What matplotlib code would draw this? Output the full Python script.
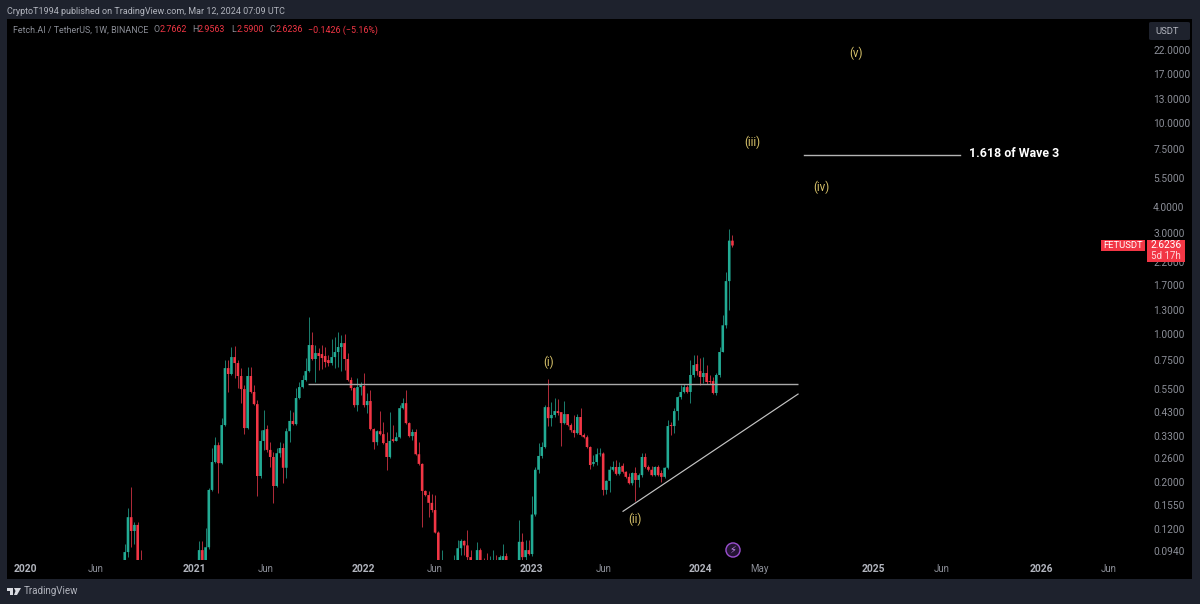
import matplotlib
matplotlib.use("Agg")
import matplotlib.pyplot as plt
import matplotlib.dates as mdates
from matplotlib.patches import Circle, FancyBboxPatch, Polygon, Rectangle
import numpy as np
import pandas as pd

plt.rcParams["font.family"] = ["Roboto", "DejaVu Sans"]

# weekly candles, the values under the visible range are only estimates
opens = [.080,.093,.136,.117,.125,.075,
    .072,.071,.068,.066,.062,.064,.060,.058,.061,.057,.055,.053,.056,.054,.058,.061,.066,
    .078,.095,.080,.098,.183,.248,.298,.245,.371,.690,
    .647,.778,.729,.633,.549,.359,.633,.532,.466,.213,
    .312,.355,.283,.262,.191,.273,.289,.233,.347,.388,
    .375,.498,.561,.606,.668,.887,.762,.813,.804,.787,
    .753,.729,.778,.822,.868,.906,.762,.606,.555,.461,
    .561,.568,.461,.482,.355,.308,.347,.336,.305,.262,
    .318,.312,.325,.446,.471,.379,.329,.344,.270,.243,
    .181,.173,.159,.147,.115,.077,.080,.078,.076,.079,
    .082,.097,.105,.100,.088,.080,.079,.095,.080,.078,
    .076,.078,.080,.078,.080,.089,.081,.079,.078,.080,
    .104,.088,.095,.091,.140,.228,.265,.292,.451,.400,
    .414,.432,.427,.379,.418,.371,.351,.340,.405,.333,
    .325,.292,.243,.248,.270,.272,.183,.202,.228,.235,
    .218,.238,.223,.211,.197,.220,.204,.215,.262,.235,
    .228,.215,.235,.220,.211,.233,.371,.367,.432,.503,
    .532,.561,.532,.640,.721,.668,.626,.654,.599,.599,
    .526,.640,.822,1.10,1.78,2.7662]
highs = [.102,.150,.189,.129,.129,.095,
    .076,.075,.072,.070,.068,.068,.064,.065,.064,.061,.059,.059,.060,.061,.065,.071,.080,
    .105,.105,.121,.187,.289,.325,.308,.400,.753,.753,
    .868,.877,.753,.690,.574,.698,.698,.574,.487,.351,
    .437,.371,.308,.276,.289,.308,.305,.359,.437,.427,
    .555,.593,.640,.770,1.20,1.02,.887,.859,.887,.868,
    .796,.946,.968,1.02,.99,1.00,.813,.626,.561,.619,
    .593,.654,.526,.543,.359,.351,.432,.383,.344,.427,
    .371,.344,.461,.498,.543,.385,.355,.355,.308,.245,
    .183,.181,.175,.173,.117,.095,.083,.082,.083,.090,
    .106,.107,.106,.118,.095,.084,.104,.097,.087,.092,
    .089,.095,.090,.090,.102,.092,.084,.083,.084,.132,
    .115,.106,.106,.171,.235,.305,.308,.461,.613,.476,
    .498,.492,.430,.482,.420,.379,.414,.418,.446,.340,
    .333,.295,.268,.289,.289,.276,.204,.238,.251,.254,
    .248,.245,.225,.220,.223,.235,.220,.273,.273,.240,
    .238,.238,.240,.228,.235,.392,.383,.446,.510,.574,
    .580,.574,.753,.796,.796,.770,.778,.713,.640,.626,
    .654,.868,1.23,1.96,3.14,2.9563]
lows = [.075,.088,.098,.102,.072,.070,
    .068,.065,.063,.059,.060,.057,.055,.056,.054,.052,.050,.051,.052,.052,.056,.059,.064,
    .075,.077,.076,.096,.180,.246,.177,.243,.367,.532,
    .640,.619,.555,.471,.336,.355,.526,.461,.171,.208,
    .283,.276,.235,.159,.189,.262,.197,.208,.308,.371,
    .371,.492,.555,.599,.661,.753,.593,.675,.683,.698,
    .705,.713,.690,.698,.668,.675,.599,.543,.451,.432,
    .514,.451,.423,.351,.286,.298,.333,.302,.228,.259,
    .308,.312,.322,.442,.375,.325,.315,.268,.240,.122,
    .171,.136,.144,.114,.078,.072,.074,.072,.073,.076,
    .078,.090,.090,.082,.076,.075,.077,.077,.075,.073,
    .073,.075,.075,.075,.077,.078,.076,.075,.075,.078,
    .082,.085,.090,.089,.138,.220,.259,.289,.367,.367,
    .405,.414,.295,.375,.367,.344,.325,.336,.329,.322,
    .289,.230,.238,.240,.265,.173,.175,.179,.225,.215,
    .215,.220,.208,.195,.193,.163,.189,.211,.233,.225,
    .213,.213,.213,.200,.209,.230,.333,.340,.392,.492,
    .526,.526,.471,.626,.640,.574,.586,.580,.580,.520,
    .514,.626,.82,1.07,1.30,2.59]
closes = [.093,.136,.117,.125,.074,.072,
    .071,.068,.066,.062,.064,.060,.058,.061,.057,.055,.053,.056,.054,.058,.061,.066,.074,
    .095,.080,.098,.183,.248,.298,.245,.371,.690,.647,
    .778,.729,.633,.549,.359,.633,.532,.466,.213,.312,
    .351,.283,.262,.191,.273,.289,.233,.347,.388,.375,
    .498,.561,.606,.668,.887,.762,.813,.787,.770,.737,
    .729,.778,.822,.868,.906,.762,.606,.555,.461,.561,
    .574,.461,.482,.355,.308,.347,.336,.305,.262,.312,
    .312,.325,.446,.471,.379,.329,.344,.270,.243,.181,
    .173,.159,.147,.115,.078,.080,.078,.076,.079,.082,
    .097,.105,.100,.088,.080,.079,.095,.080,.078,.076,
    .078,.080,.078,.088,.089,.081,.079,.078,.080,.104,
    .088,.095,.091,.140,.228,.265,.292,.451,.400,.414,
    .432,.423,.379,.418,.371,.351,.340,.405,.333,.325,
    .292,.240,.248,.270,.272,.183,.202,.228,.235,.218,
    .235,.223,.211,.197,.220,.204,.215,.262,.235,.228,
    .215,.235,.215,.211,.233,.367,.367,.432,.503,.532,
    .561,.532,.640,.713,.668,.626,.654,.593,.593,.526,
    .640,.822,1.10,1.78,2.7662,2.6236]

price_ticks = [22, 17, 13, 10, 7.5, 5.5, 4, 3, 2.2, 1.7, 1.3, 1, .75, .55, .43, .33, .26, .2, .155, .12, .094]
time_ticks = ["2020-01-01", "2020-06-01", "2021-01-01", "2021-06-05", "2022-01-01", "2022-06-06", "2023-01-01",
              "2023-06-05", "2024-01-01", "2024-05-08", "2025-01-10", "2025-06-06", "2026-01-08", "2026-06-04"]
time_labels = ["2020", "Jun", "2021", "Jun", "2022", "Jun", "2023", "Jun", "2024", "May", "2025", "Jun", "2026", "Jun"]

wave_labels = ["(i)", "(ii)", "(iii)", "(iv)", "(v)"]
wave_dates = ["2023-02-06", "2023-08-13", "2024-04-22", "2024-09-19", "2024-12-04"]
wave_prices = [.735, .133, 8.07, 4.95, 21.4]

GREEN = "#22ab94"
RED = "#f23645"
GREEN_WICK = "#1b7f70"
RED_WICK = "#b32c3a"
SLATE = "#1e222d"
GREY = "#8b8e97"
LIGHT = "#b2b5be"


def fx(px):
    return px / 1200


def fy(px):
    return 1 - px / 604


fig = plt.figure(figsize=(12, 6.04), dpi=100, facecolor=SLATE)

# black pane behind the chart and both scales
fig.add_artist(Rectangle((fx(7), fy(579)), fx(1185), fy(19) - fy(579), transform=fig.transFigure,
                         facecolor="black", edgecolor="none", zorder=-5))

ax = fig.add_axes([fx(7), fy(560), fx(1142), fy(20) - fy(560)])
ax.patch.set_alpha(0)
for s in ax.spines.values():
    s.set_visible(False)
ax.set_yscale("log")

dates = mdates.date2num(pd.date_range(end="2024-03-11", periods=len(closes), freq="7D"))
o = np.array(opens)
h = np.array(highs)
l = np.array(lows)
c = np.array(closes)
up = c >= o
body_colors = [GREEN if u else RED for u in up]
wick_colors = [GREEN_WICK if u else RED_WICK for u in up]

ax.vlines(dates, l, h, colors=wick_colors, linewidth=0.7, zorder=2)
bodies = ax.bar(dates, np.abs(c - o), bottom=np.minimum(o, c), width=5.6, color=body_colors, linewidth=0, zorder=3)
for b in bodies:
    b.set_snap(False)

# drawings on top of the candles
d = mdates.datestr2num
ax.plot([d("2021-09-04"), d("2024-07-31")], [.58, .58], color="#a9a9a9", lw=1.0, zorder=4, solid_capstyle="butt")
ax.plot([d("2023-07-18"), d("2024-07-31")], [.145, .52], color="#c4c4c4", lw=0.85, zorder=4)
ax.plot([d("2024-08-13"), d("2025-07-17")], [7.03, 7.03], color="#b4b4b4", lw=1.0, zorder=4)
ax.text(d("2025-08-05"), 7.18, "1.618 of Wave 3", color="white", fontsize=8.9, fontweight="bold", va="center", ha="left")
for lab, when, pr in zip(wave_labels, wave_dates, wave_prices):
    ax.text(d(when), pr, lab, color="#d8c36a", fontsize=8.3, ha="center", va="center", zorder=5)

ax.set_xlim(d("2019-11-22"), d("2026-08-30"))
ax.set_ylim(.0853, 30.6)

ax.yaxis.tick_right()
ax.set_yticks(price_ticks)
ax.set_yticklabels(["%.4f" % p for p in price_ticks])
ax.minorticks_off()
ax.tick_params(axis="y", length=0, pad=3, labelsize=7.3, labelcolor=GREY)
ax.set_xticks([d(t) for t in time_ticks])
ax.set_xticklabels(time_labels)
ax.tick_params(axis="x", length=0, pad=3, labelsize=7, labelcolor=GREY)
for t in ax.get_xticklabels():
    if t.get_text().isdigit():
        t.set_color(LIGHT)
        t.set_fontweight("bold")
        t.set_fontsize(7.4)

# lightning marker
icon_ax = fig.add_axes([fx(725), fy(558), fx(16), fy(542) - fy(558)])
icon_ax.axis("off")
icon_ax.set_xlim(-1, 1)
icon_ax.set_ylim(-1, 1)
icon_ax.add_patch(Circle((0, 0), .88, facecolor="#241433", edgecolor="#9b4fd0", lw=1))
icon_ax.text(0, -.03, "\u26a1", color="#c58af0", fontsize=7, ha="center", va="center", family="DejaVu Sans")

# header lines
fig.text(fx(7), fy(11), "CryptoT1994 published on TradingView.com, Mar 12, 2024 07:09 UTC", color=LIGHT,
         fontsize=6.5, va="center")
legend_parts = [(13, "Fetch.AI / TetherUS, 1W, BINANCE", GREY), (153, "O", GREY), (160, "2.7662", RED),
                (192, "H", GREY), (198, "2.9563", RED), (231, "L", GREY), (237, "2.5900", RED),
                (270, "C", GREY), (276, "2.6236", RED), (308, "\u22120.1426 (\u22125.16%)", RED)]
for x, s, col in legend_parts:
    fig.text(fx(x), fy(30), s, color=col, fontsize=6.4, va="center")

# scale button and last price tags
px_trans = fig.transFigure
fig.add_artist(FancyBboxPatch((fx(1149), fy(40)), fx(41), fy(22) - fy(40), boxstyle="round,pad=0,rounding_size=0.002",
                              transform=px_trans, facecolor=SLATE, edgecolor="none"))
fig.text(fx(1167.5), fy(31), "USDT", color=LIGHT, fontsize=6.8, ha="center", va="center")
fig.add_artist(Rectangle((fx(1101), fy(251)), fx(44), fy(240) - fy(251), transform=px_trans, facecolor=RED,
                         edgecolor="none", zorder=6))
fig.add_artist(Rectangle((fx(1147), fy(262)), fx(38), fy(240) - fy(262), transform=px_trans, facecolor=RED,
                         edgecolor="none", zorder=6))
fig.text(fx(1123), fy(245.5), "FETUSDT", color="white", fontsize=6.8, ha="center", va="center", zorder=7)
fig.text(fx(1166), fy(245.5), "2.6236", color="white", fontsize=7.3, ha="center", va="center", zorder=7)
fig.text(fx(1166), fy(256), "5d 17h", color="#ffd9dd", fontsize=7, ha="center", va="center", zorder=7)

# footer logo
logo = [[(7, 588), (13, 588), (13, 595), (10, 595), (10, 591), (7, 591)],
        [(14, 588), (21, 588), (17, 595), (14, 595), (15.5, 591)]]
for shape in logo:
    fig.add_artist(Polygon([(fx(a), fy(b)) for a, b in shape], transform=px_trans, facecolor="#d8dae0", edgecolor="none"))
fig.text(fx(24), fy(591.5), "TradingView", color=LIGHT, fontsize=7.0, va="center")

fig.savefig("out.png", dpi=100, facecolor=fig.get_facecolor())
